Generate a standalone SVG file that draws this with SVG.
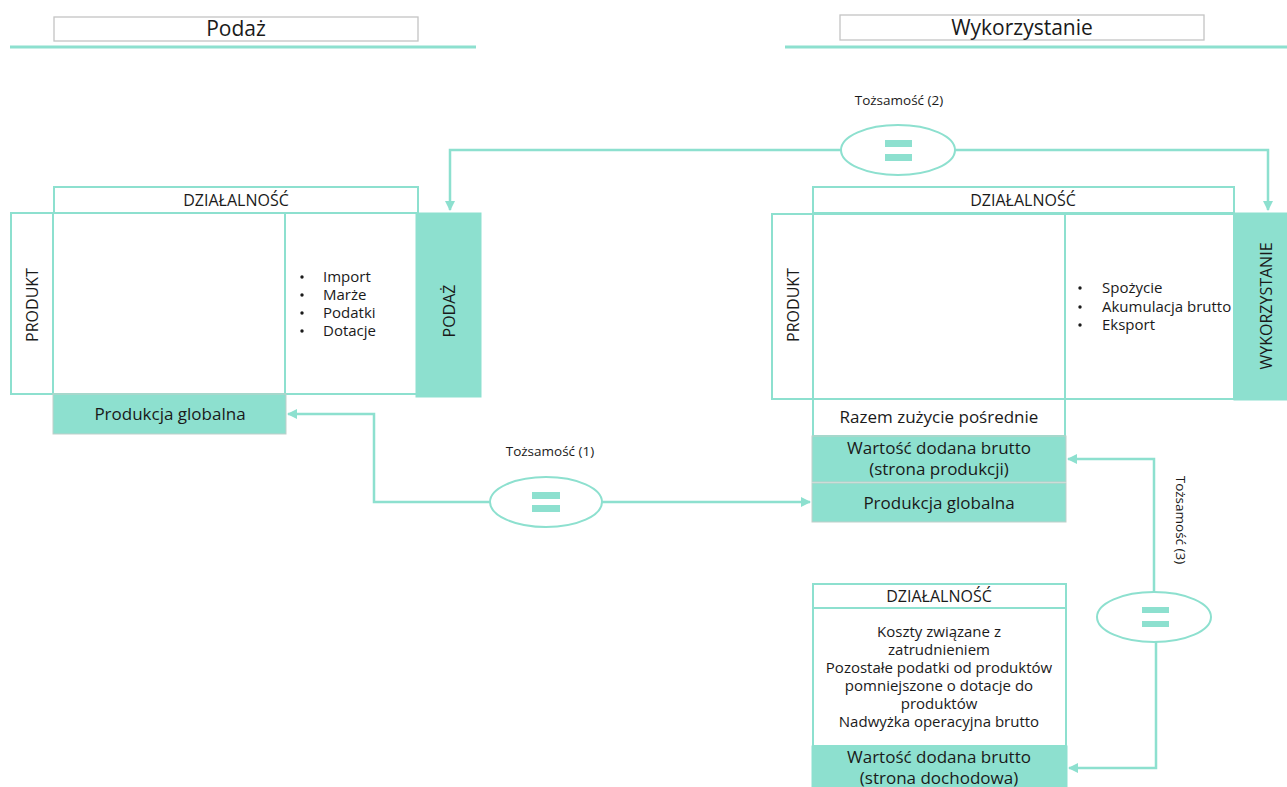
<svg xmlns="http://www.w3.org/2000/svg" width="1287" height="787" viewBox="0 0 1287 787">
<style>
text{font-family:"Open Sans","Noto Sans","Liberation Sans",sans-serif;fill:#1a1a1a}
.hdr{fill:#fff;stroke:#c4c4c4;stroke-width:1.3}
.hl{stroke:#8de0cf;stroke-width:3}
.cell{fill:#fff;stroke:#8de0cf;stroke-width:2}
.fill{fill:#8de0cf;stroke:#8de0cf;stroke-width:1}
.fillg{fill:#8de0cf;stroke:#bfcfca;stroke-width:1}
.conn{fill:none;stroke:#8de0cf;stroke-width:2.5}
.ell{fill:#fff;stroke:#8de0cf;stroke-width:2}
.bar{fill:#8de0cf}
.t14{font-size:15px}
.t15{font-size:17px}
.cap{font-size:16px}
.lbl{font-size:13.5px}
.c{text-anchor:middle}
</style>
<defs>
<marker id="ah" markerWidth="10" markerHeight="10" refX="9" refY="5" orient="auto" markerUnits="userSpaceOnUse">
<path d="M0,0 L10,5 L0,10 z" fill="#8de0cf"/>
</marker>
</defs>

<g id="header-left">
<rect class="hdr" x="54" y="17" width="364" height="24"/>
<line class="hl" x1="10" y1="47" x2="476" y2="47"/>
<text x="236" y="36" class="c" font-size="21">Podaż</text>
</g>
<g id="header-right">
<rect class="hdr" x="840" y="15" width="364" height="25"/>
<line class="hl" x1="785" y1="47" x2="1287" y2="47"/>
<text x="1022" y="35" class="c" font-size="21">Wykorzystanie</text>
</g>

<g id="supply-table">
<rect class="cell" x="54" y="187" width="364" height="26"/>
<text x="236" y="206" class="c cap">DZIAŁALNOŚĆ</text>
<rect class="cell" x="11" y="213" width="406" height="181"/>
<line x1="53" y1="213" x2="53" y2="394" stroke="#8de0cf" stroke-width="2"/>
<line x1="285" y1="213" x2="285" y2="394" stroke="#8de0cf" stroke-width="2"/>
<text transform="translate(38,305) rotate(-90)" class="c cap">PRODUKT</text>
<g class="t14">
<circle cx="302" cy="277" r="1.7" fill="#1a1a1a"/>
<circle cx="302" cy="295" r="1.7" fill="#1a1a1a"/>
<circle cx="302" cy="313" r="1.7" fill="#1a1a1a"/>
<circle cx="302" cy="331" r="1.7" fill="#1a1a1a"/>
<text x="323" y="282">Import</text>
<text x="323" y="300">Marże</text>
<text x="323" y="318">Podatki</text>
<text x="323" y="336">Dotacje</text>
</g>
</g>
<g id="podaz">
<rect class="fill" x="416" y="213" width="65" height="184"/>
<text transform="translate(455,311) rotate(-90)" class="c cap">PODAŻ</text>
</g>
<g id="produkcja-left">
<rect class="fillg" x="53" y="394" width="233" height="40"/>
<text x="170" y="420" class="c t15">Produkcja globalna</text>
</g>

<g id="use-table">
<rect class="cell" x="813" y="187" width="421" height="26"/>
<text x="1023" y="206" class="c cap">DZIAŁALNOŚĆ</text>
<rect class="cell" x="772" y="214" width="462" height="185"/>
<line x1="813" y1="213" x2="813" y2="399" stroke="#8de0cf" stroke-width="2"/>
<line x1="1065" y1="213" x2="1065" y2="399" stroke="#8de0cf" stroke-width="2"/>
<text transform="translate(799,305) rotate(-90)" class="c cap">PRODUKT</text>
<circle cx="1080" cy="288" r="1.7" fill="#1a1a1a"/>
<circle cx="1080" cy="307" r="1.7" fill="#1a1a1a"/>
<circle cx="1080" cy="325" r="1.7" fill="#1a1a1a"/>
<text x="1102" y="293" class="t14">Spożycie</text>
<text x="1102" y="312" class="t14">Akumulacja brutto</text>
<text x="1102" y="330" class="t14">Eksport</text>
</g>
<g id="wykorzystanie">
<rect class="fill" x="1234" y="213" width="53" height="187"/>
<text transform="translate(1272,306) rotate(-90)" class="c cap">WYKORZYSTANIE</text>
</g>
<g id="razem">
<rect class="cell" x="813" y="399" width="252" height="37"/>
<text x="939" y="423" class="c t15">Razem zużycie pośrednie</text>
</g>
<g id="wdb-produkcji">
<rect class="fillg" x="812" y="436" width="254" height="46"/>
<text x="939" y="454" class="c t15">Wartość dodana brutto</text>
<text x="939" y="475" class="c t15">(strona produkcji)</text>
</g>
<g id="produkcja-right">
<rect class="fillg" x="812" y="483" width="254" height="39"/>
<text x="939" y="509" class="c t15">Produkcja globalna</text>
</g>

<g id="income-table">
<rect class="cell" x="813" y="584" width="253" height="24"/>
<text x="939" y="602" class="c cap">DZIAŁALNOŚĆ</text>
<rect class="cell" x="813" y="608" width="253" height="138"/>
<g class="c t14">
<text x="939" y="637">Koszty związane z</text>
<text x="939" y="655">zatrudnieniem</text>
<text x="939" y="673">Pozostałe podatki od produktów</text>
<text x="939" y="691">pomniejszone o dotacje do</text>
<text x="939" y="709">produktów</text>
<text x="939" y="727">Nadwyżka operacyjna brutto</text>
</g>
</g>
<g id="wdb-dochodowa">
<rect class="fill" x="812" y="746" width="255" height="45"/>
<text x="939" y="763" class="c t15">Wartość dodana brutto</text>
<text x="939" y="784" class="c t15">(strona dochodowa)</text>
</g>

<g id="connectors">
<path class="conn" d="M490,502 H374 V414 H288" marker-end="url(#ah)"/>
<path class="conn" d="M602,502 H810" marker-end="url(#ah)"/>
<path class="conn" d="M842,150 H450 V210" marker-end="url(#ah)"/>
<path class="conn" d="M955,150 H1268 V210" marker-end="url(#ah)"/>
<path class="conn" d="M1154,592 V459 H1068" marker-end="url(#ah)"/>
<path class="conn" d="M1156,642 V768 H1069" marker-end="url(#ah)"/>
</g>

<g id="identity-1">
<ellipse class="ell" cx="546" cy="502" rx="56" ry="25"/>
<rect class="bar" x="532" y="492" width="28" height="7"/>
<rect class="bar" x="532" y="505" width="28" height="7"/>
<text x="550" y="456" class="c lbl">Tożsamość (1)</text>
</g>
<g id="identity-2">
<ellipse class="ell" cx="898" cy="150" rx="57" ry="25"/>
<rect class="bar" x="885" y="140" width="27" height="7"/>
<rect class="bar" x="885" y="154" width="27" height="7"/>
<text x="899" y="105" class="c lbl">Tożsamość (2)</text>
</g>
<g id="identity-3">
<ellipse class="ell" cx="1154" cy="617" rx="57" ry="25"/>
<rect class="bar" x="1142" y="607" width="27" height="6"/>
<rect class="bar" x="1142" y="621" width="27" height="6"/>
<text transform="translate(1176,520) rotate(90)" class="c lbl">Tożsamość (3)</text>
</g>
</svg>
